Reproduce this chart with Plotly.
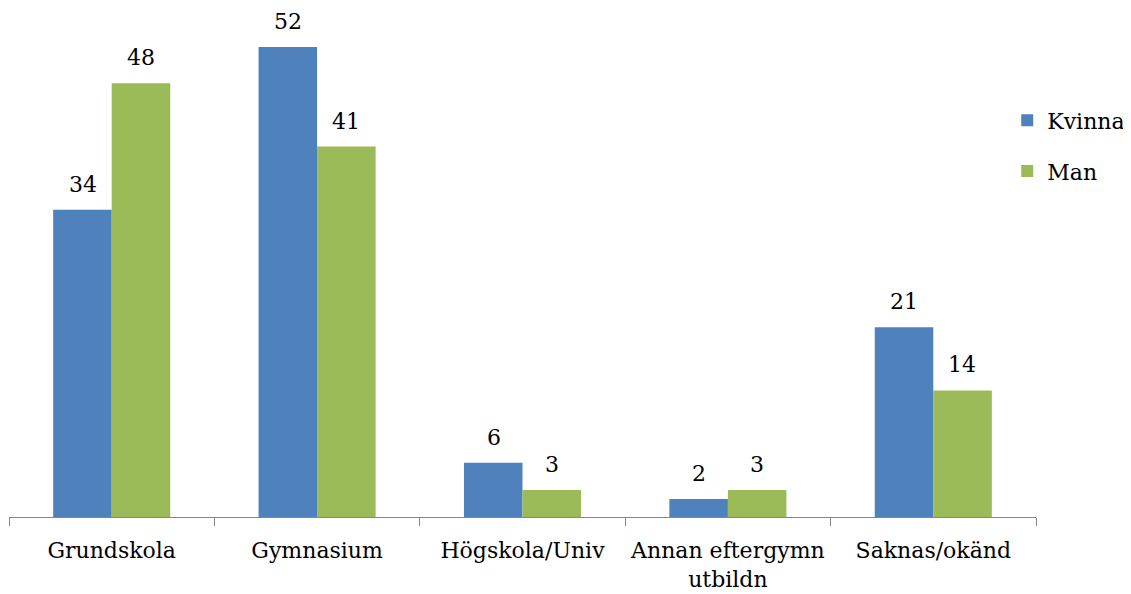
import plotly.graph_objects as go

categories = ["Grundskola", "Gymnasium", "Högskola/Univ", "Annan eftergymn<br>utbildn", "Saknas/okänd"]
kvinna = [34, 52, 6, 2, 21]
man = [48, 41, 3, 3, 14]

FONT = "DejaVu Serif"
SIZE = 22

fig = go.Figure()
fig.add_trace(go.Bar(
    x=categories, y=kvinna, name="Kvinna",
    marker=dict(color="#4F81BD", line=dict(width=0)),
    legendgroup="k",
))
fig.add_trace(go.Bar(
    x=categories, y=man, name="Man",
    marker=dict(color="#9BBB59", line=dict(width=0)),
    legendgroup="m",
))

# value labels above each bar, a bit higher than plotly's own outside text
for vals, shift in [(kvinna, -29), (man, 29)]:
    for cat, v in zip(categories, vals):
        fig.add_annotation(
            x=cat, y=v, text=str(v), showarrow=False,
            xshift=shift, yshift=11, yanchor="bottom",
            font=dict(family=FONT, size=SIZE, color="black"),
        )

fig.update_layout(
    width=1131, height=594,
    barmode="group", bargap=0.43, bargroupgap=0,
    plot_bgcolor="white", paper_bgcolor="white",
    margin=dict(l=1, r=103, t=12, b=85, autoexpand=False),
    font=dict(family=FONT, size=SIZE, color="black"),
    showlegend=True,
    legend=dict(x=0.972, y=0.84, xanchor="left", yanchor="top",
                tracegroupgap=19, font=dict(size=SIZE),
                itemwidth=30),
)
fig.update_xaxes(
    showline=True, linecolor="#868686", linewidth=1,
    ticks="outside", tickson="boundaries", ticklen=8, tickcolor="#868686",
    tickfont=dict(family=FONT, size=SIZE), ticklabelstandoff=14,
)
fig.update_yaxes(range=[0, 55], visible=False, showgrid=False)

fig.write_html("out.html")
